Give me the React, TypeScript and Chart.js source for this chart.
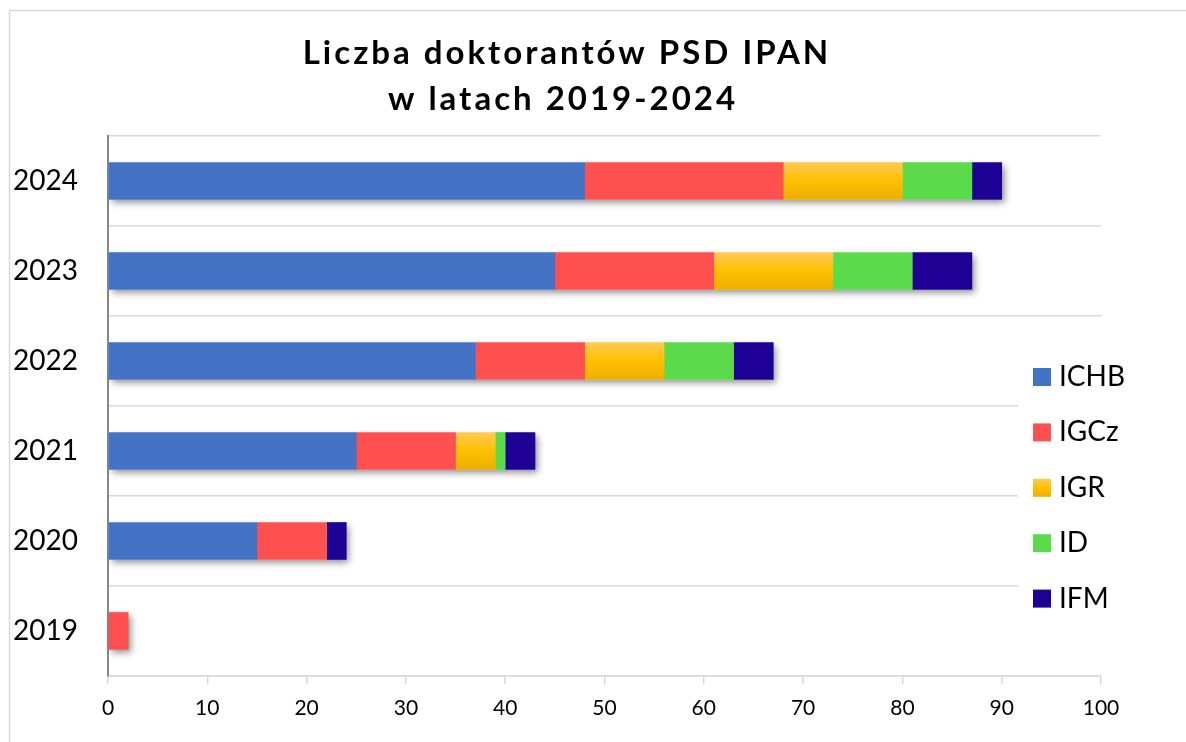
import React, { useEffect, useRef } from "react";
import { Chart, registerables } from "chart.js";

Chart.register(...registerables);

// ---- data ----
const years = ["2024", "2023", "2022", "2021", "2020", "2019"];
const seriesNames = ["ICHB", "IGCz", "IGR", "ID", "IFM"];
const ichb = [48, 45, 37, 25, 15, 0];
const igcz = [20, 16, 11, 10, 7, 2];
const igr = [12, 12, 8, 4, 0, 0];
const id = [7, 8, 7, 1, 0, 0];
const ifm = [3, 6, 4, 3, 2, 0];
const xMin = 0;
const xMax = 100;
const xStep = 10;
const titleLines = ["Liczba doktorantów PSD IPAN", "w latach 2019-2024"];

const seriesValues = [ichb, igcz, igr, id, ifm];
const seriesColors = ["#4472C4", "#FF5050", "#FFC000", "#5BDB4B", "#1F0094"];

function igrGradient(ctx: CanvasRenderingContext2D, top: number, bottom: number) {
  const g = ctx.createLinearGradient(0, top, 0, bottom);
  g.addColorStop(0, "#FFCA52");
  g.addColorStop(0.5, "#FFC000");
  g.addColorStop(1, "#ECAF00");
  return g;
}

// one shadow per whole stacked bar, drawn beneath the bars
const shadowPlugin = {
  id: "barShadow",
  beforeDatasetsDraw(chart: any) {
    const ctx: CanvasRenderingContext2D = chart.ctx;
    const metas = chart.getSortedVisibleDatasetMetas();
    if (!metas.length) return;
    const n = chart.data.labels.length;
    ctx.save();
    ctx.shadowColor = "rgba(0,0,0,0.45)";
    ctx.shadowBlur = 7;
    ctx.shadowOffsetX = 3;
    ctx.shadowOffsetY = 3;
    ctx.fillStyle = "#ffffff";
    for (let j = 0; j < n; j++) {
      let lo = Infinity;
      let hi = -Infinity;
      let top = 0;
      let h = 0;
      metas.forEach((m: any) => {
        const el = m.data[j];
        if (!el) return;
        const a = Math.min(el.x, el.base);
        const b = Math.max(el.x, el.base);
        if (b - a < 0.5) return;
        lo = Math.min(lo, a);
        hi = Math.max(hi, b);
        top = el.y - el.height / 2;
        h = el.height;
      });
      if (hi > lo) ctx.fillRect(lo, top, hi - lo, h);
    }
    ctx.restore();
  },
};

const decorPlugin = {
  id: "decor",
  afterDraw(chart: any) {
    const ctx: CanvasRenderingContext2D = chart.ctx;
    ctx.save();
    // frame
    ctx.strokeStyle = "#d9d9d9";
    ctx.lineWidth = 1.5;
    ctx.strokeRect(9.5, 10.5, 1300, 900);
    // title
    ctx.fillStyle = "#000";
    ctx.font = "bold 33px Lato";
    (ctx as any).letterSpacing = "3px";
    ctx.textAlign = "center";
    ctx.textBaseline = "alphabetic";
    ctx.fillText(titleLines[0], 567, 64);
    ctx.fillText(titleLines[1], 563, 110);
    (ctx as any).letterSpacing = "0px";
    // legend
    ctx.fillStyle = "#fff";
    ctx.fillRect(1018, 335, 168, 300);
    chart.data.datasets.forEach((ds: any, i: number) => {
      const top = 368 + i * 55.4;
      ctx.fillStyle = i === 2 ? igrGradient(ctx, top, top + 18) : seriesColors[i];
      ctx.fillRect(1033, top, 18, 18);
      ctx.fillStyle = "#000";
      ctx.font = "28px Lato";
      ctx.textAlign = "left";
      ctx.textBaseline = "middle";
      ctx.fillText(ds.label, 1059, top + 9);
    });
    ctx.restore();
  },
};

export default function App() {
  const ref = useRef<HTMLCanvasElement>(null);
  useEffect(() => {
    document.body.style.margin = "0";
    const canvas = ref.current!;
    const chart = new Chart(canvas, {
      type: "bar",
      data: {
        labels: years,
        datasets: seriesNames.map((name, i) => ({
          label: name,
          data: seriesValues[i],
          backgroundColor:
            i === 2
              ? (c: any) => {
                  const y = c.chart.scales?.y;
                  if (!y || c.dataIndex === undefined) return seriesColors[i];
                  const p = y.getPixelForValue(c.dataIndex);
                  if (!isFinite(p)) return seriesColors[i];
                  return igrGradient(c.chart.ctx, p - 18.5, p + 18.5);
                }
              : seriesColors[i],
          borderWidth: 0,
          barThickness: 37,
        })),
      },
      options: {
        indexAxis: "y",
        responsive: false,
        animation: false,
        layout: { padding: { top: 136, right: 85, left: 0, bottom: 0 } },
        plugins: {
          legend: { display: false },
          title: { display: false },
          tooltip: { enabled: false },
        },
        scales: {
          x: {
            stacked: true,
            min: xMin,
            max: xMax,
            ticks: {
              stepSize: xStep,
              color: "#000",
              font: { family: "Lato", size: 21 },
              padding: 12,
            },
            grid: {
              drawOnChartArea: false,
              drawTicks: true,
              tickLength: 8,
              color: "#d9d9d9",
              lineWidth: 1.5,
            },
            border: { color: "#d9d9d9", width: 1.5 },
            afterFit: (s: any) => {
              s.height = 66;
            },
          },
          y: {
            stacked: true,
            ticks: {
              color: "#000",
              font: { family: "Lato", size: 28 },
              padding: 30,
            },
            grid: {
              color: "#d9d9d9",
              lineWidth: 1.5,
              drawTicks: false,
              offset: true,
            },
            border: { color: "#888", width: 2 },
            afterFit: (s: any) => {
              s.width = 108;
            },
          },
        },
      } as any,
      plugins: [shadowPlugin, decorPlugin],
    });
    return () => chart.destroy();
  }, []);
  return (
    <canvas
      ref={ref}
      width={1186}
      height={742}
      style={{ display: "block", width: 1186, height: 742 }}
    />
  );
}
